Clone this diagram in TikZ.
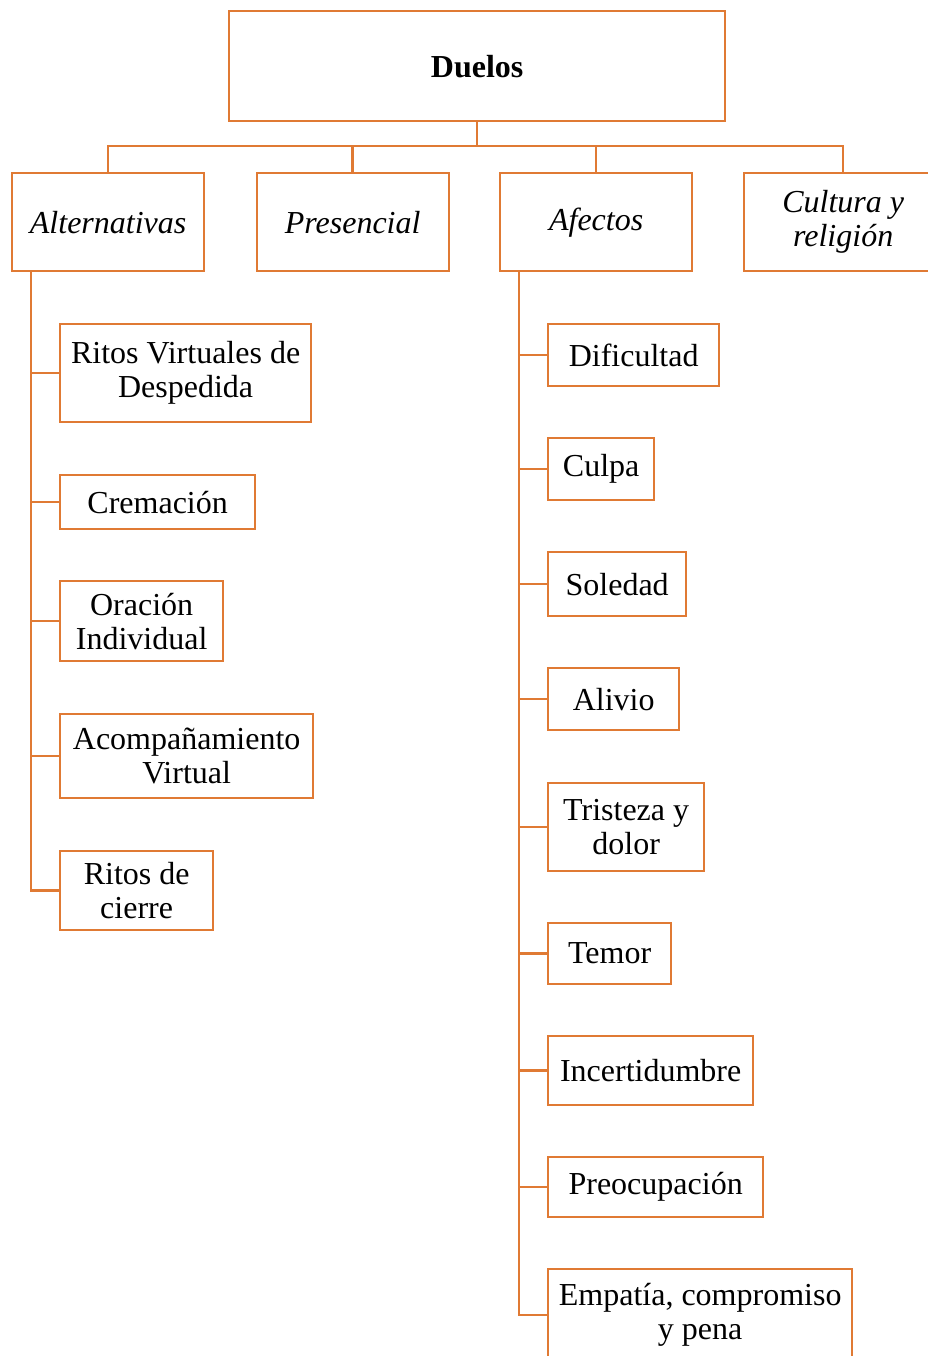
\documentclass[tikz,border=0pt]{standalone}
\usepackage{fontspec}
\setmainfont{Liberation Serif}
\definecolor{linecol}{RGB}{224,122,52}
\begin{document}
\begin{tikzpicture}[x=1pt,y=-1pt,
  box/.style={draw=linecol, line width=2.3pt, fill=white, inner sep=0pt,
    anchor=north west, align=center, text=black,
    font=\fontsize{32}{34}\selectfont},
  link/.style={draw=linecol, line width=2.4pt}]
\clip (0,0) rectangle (928,1356);

% root
\node[box, minimum width=496, minimum height=110, font=\fontsize{32}{34}\selectfont\bfseries] (duelos) at (228,10) {Duelos};

% second level
\node[box, minimum width=192, minimum height=98, font=\fontsize{32}{34}\selectfont\itshape] (alt) at (11,172) {Alternativas};
\node[box, minimum width=192, minimum height=98, font=\fontsize{32}{34}\selectfont\itshape] (pres) at (255.5,172) {Presencial};
\node[box, minimum width=192, minimum height=98, font=\fontsize{32}{34}\selectfont\itshape] (afec) at (499,172) {Afectos};
\node[box, minimum width=198, minimum height=98, font=\fontsize{32}{34}\selectfont\itshape] (cult) at (743,172) {Cultura y\\religión};

% children of Alternativas
\node[box, minimum width=251, minimum height=98] (ritos) at (59,323) {Ritos Virtuales de\\Despedida};
\node[box, minimum width=195, minimum height=54] (crem) at (59,474) {Cremación};
\node[box, minimum width=163, minimum height=80] (orac) at (59,580) {Oración\\Individual};
\node[box, minimum width=253, minimum height=84] (acomp) at (59,713) {Acompañamiento\\Virtual};
\node[box, minimum width=153, minimum height=79] (cierre) at (59,850) {Ritos de\\cierre};

% children of Afectos
\node[box, minimum width=171, minimum height=62] (dif) at (547,323) {Dificultad};
\node[box, minimum width=106, minimum height=62] (culpa) at (547,437) {Culpa};
\node[box, minimum width=138, minimum height=64] (sol) at (547,551) {Soledad};
\node[box, minimum width=131, minimum height=62] (aliv) at (547,667) {Alivio};
\node[box, minimum width=156, minimum height=88] (trist) at (547,782) {Tristeza y\\dolor};
\node[box, minimum width=123, minimum height=61] (temor) at (547,922) {Temor};
\node[box, minimum width=205, minimum height=69] (incert) at (547,1035) {Incertidumbre};
\node[box, minimum width=215, minimum height=60] (preoc) at (547,1156) {Preocupación};
\node[box, minimum width=304, minimum height=92] (emp) at (547,1268) {Empatía, compromiso\\y pena};

% bus under the root
\coordinate (bus) at (0,146);
\draw[link] (duelos.south) -- (duelos.south |- bus);
\draw[link] (alt.north) -- (alt.north |- bus) -- (cult.north |- bus) -- (cult.north);
\draw[link] (pres.north) -- (pres.north |- bus);
\draw[link] (afec.north) -- (afec.north |- bus);

% spine of Alternativas
\coordinate (ls) at ([xshift=20pt]alt.south west);
\draw[link] (ls) |- (cierre.west);
\foreach \n in {ritos,crem,orac,acomp}
  \draw[link] (\n.west) -- (\n.west -| ls);

% spine of Afectos
\coordinate (rs) at ([xshift=20pt]afec.south west);
\draw[link] (rs) |- (emp.west);
\foreach \n in {dif,culpa,sol,aliv,trist,temor,incert,preoc}
  \draw[link] (\n.west) -- (\n.west -| rs);
\end{tikzpicture}
\end{document}
